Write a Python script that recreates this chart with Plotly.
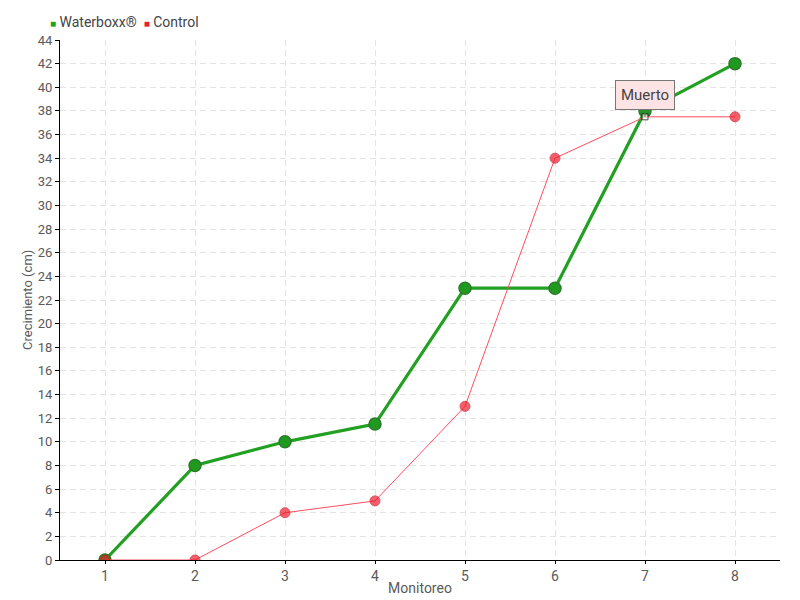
import plotly.graph_objects as go

monitoreo = [1, 2, 3, 4, 5, 6, 7, 8]
waterboxx = [0, 8, 10, 11.5, 23, 23, 38, 42]
control = [0, 0, 4, 5, 13, 34, 37.5, 37.5]
y_ticks = list(range(0, 45, 2))
series_names = ["Waterboxx®", "Control"]

FONT = "Roboto, sans-serif"
GREEN = "#22a022"
RED = "#ee1c2c"
TXT = "#5a5a5a"

fig = go.Figure()
fig.add_trace(go.Scatter(
    x=monitoreo, y=waterboxx, name=series_names[0], mode="lines+markers",
    line=dict(color=GREEN, width=3.2),
    marker=dict(size=12, color="#1f9a1f", line=dict(color="#2c7a2c", width=1.5)),
))
sym = ["circle"] * 8
sym[6] = "square"
mcol = [RED] * 8
mcol[6] = "white"
lcol = ["#d0101f"] * 8
lcol[6] = "black"
msize = [10] * 8
msize[6] = 6
fig.add_trace(go.Scatter(
    x=monitoreo, y=control, name=series_names[1], mode="lines+markers",
    line=dict(color="#ff4d5e", width=1),
    marker=dict(size=msize, color=mcol, symbol=sym, line=dict(color=lcol, width=1)),
))

fig.add_annotation(
    x=7, y=37.5, text="Muerto", showarrow=True, arrowhead=0, arrowwidth=1,
    arrowcolor="#666", ax=0, ay=-22, bgcolor="#fde3e3", bordercolor="#777",
    borderwidth=1, borderpad=5, font=dict(family=FONT, size=15, color="#444"),
)

legend_text = (f"<span style='color:{GREEN};font-size:10px'>■</span> {series_names[0]}  "
               f"<span style='color:{RED};font-size:10px'>■</span> {series_names[1]}")
fig.add_annotation(
    xref="paper", yref="paper", x=-0.017, y=1.035, xanchor="left", yanchor="middle",
    text=legend_text, showarrow=False, font=dict(family=FONT, size=14, color="#444"),
)
fig.add_annotation(
    xref="paper", yref="paper", x=-0.046, y=0.5, xanchor="center", yanchor="middle",
    text="Crecimiento (cm)", textangle=-90, showarrow=False,
    font=dict(family=FONT, size=13, color=TXT),
)

# page body has an 8px margin: shrink figure and margins to compensate
fig.update_layout(
    width=792, height=592,
    margin=dict(l=52, r=20, t=32, b=40, autoexpand=False),
    paper_bgcolor="white", plot_bgcolor="white",
    font=dict(family=FONT, size=13, color=TXT),
    showlegend=False,
    xaxis=dict(
        title=dict(text="Monitoreo", standoff=0, font=dict(size=14, color=TXT)),
        range=[0.5, 8.5], tickvals=monitoreo, showgrid=True, automargin=False,
        gridcolor="#e4e4e4", griddash="6px,4px", showline=True, linecolor="black",
        ticks="outside", ticklen=3, tickcolor="black", zeroline=False,
        tickfont=dict(size=14),
    ),
    yaxis=dict(
        range=[0, 44], tickvals=y_ticks, showgrid=True, automargin=False,
        gridcolor="#e4e4e4", griddash="6px,4px", showline=True, linecolor="black",
        ticks="outside", ticklen=4, tickcolor="black", zeroline=False,
        tickfont=dict(size=13),
    ),
)

fig.write_html("out.html")
